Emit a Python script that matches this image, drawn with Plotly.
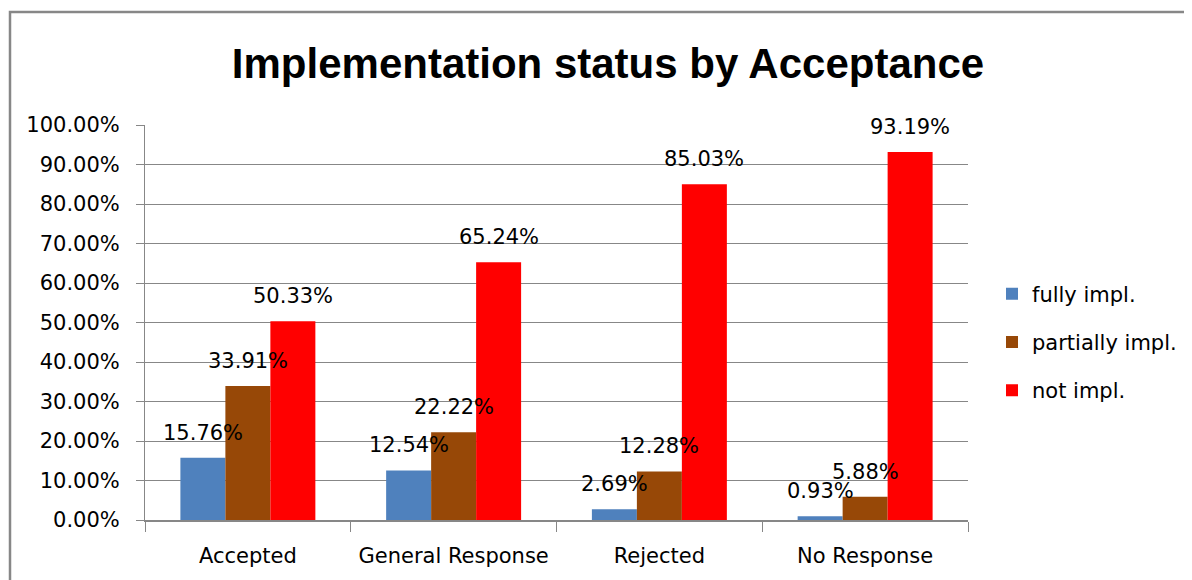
import plotly.graph_objects as go

categories = ["Accepted", "General Response", "Rejected", "No Response"]
series_names = ["fully impl.", "partially impl.", "not impl."]
fully = [0.1576, 0.1254, 0.0269, 0.0093]
partially = [0.3391, 0.2222, 0.1228, 0.0588]
not_impl = [0.5033, 0.6524, 0.8503, 0.9319]
y_ticks = [0, 0.1, 0.2, 0.3, 0.4, 0.5, 0.6, 0.7, 0.8, 0.9, 1.0]
y_ticklabels = ["0.00%", "10.00%", "20.00%", "30.00%", "40.00%", "50.00%",
                "60.00%", "70.00%", "80.00%", "90.00%", "100.00%"]
colors = ["#4F81BD", "#974807", "#FF0000"]

# page body has an 8px margin; figure coordinates are page coordinates - 8
W, H = 1184, 572
ML, MR, MT, MB = 137, 224, 117, 60
plot_w = W - ML - MR
plot_h = H - MT - MB
cat_w = plot_w / len(categories)
bargap = 0.344
bar_w = cat_w * (1 - bargap) / 3

TICK_FONT = "DejaVu Sans"
GRID = "#878787"

fig = go.Figure()
all_series = [fully, partially, not_impl]
for i, (name, vals) in enumerate(zip(series_names, all_series)):
    fig.add_trace(go.Bar(
        x=categories, y=vals, name=name,
        marker=dict(color=colors[i], line=dict(width=0)),
        legendgroup=name,
    ))

annotations = []
for i, vals in enumerate(all_series):
    for c, v in zip(categories, vals):
        annotations.append(dict(
            x=c, y=v, xref="x", yref="y",
            text=f"{v*100:.2f}%", showarrow=False,
            xshift=(i - 1) * bar_w, yshift=25, yanchor="middle",
            font=dict(family=TICK_FONT, size=21, color="#000000"),
        ))

fig.update_layout(
    width=W, height=H,
    margin=dict(l=ML, r=MR, t=MT, b=MB, autoexpand=False),
    paper_bgcolor="white", plot_bgcolor="white",
    barmode="group", bargap=bargap, bargroupgap=0,
    title=dict(
        text="<b>Implementation status by Acceptance</b>",
        font=dict(family="Liberation Sans", size=42, color="#000000"),
        x=600 / W, xref="container", xanchor="center",
        y=1 - 55 / H, yref="container", yanchor="middle",
    ),
    font=dict(family=TICK_FONT, size=21, color="#000000"),
    legend=dict(
        x=(984 - ML) / plot_w, xanchor="left",
        y=(H - MB - 334) / plot_h, yanchor="middle",
        font=dict(family=TICK_FONT, size=21, color="#000000"),
        tracegroupgap=18, bgcolor="rgba(0,0,0,0)",
    ),
    annotations=annotations,
    shapes=[dict(
        type="rect", xref="paper", yref="paper",
        x0=(2 - ML) / plot_w, x1=1.6,
        y0=-0.6, y1=(H - MB - 4) / plot_h,
        line=dict(color="#878787", width=2.5),
        fillcolor="rgba(0,0,0,0)", layer="below",
    )],
)

fig.update_xaxes(
    showline=True, linecolor=GRID, linewidth=2,
    ticks="outside", tickson="boundaries", ticklen=10, tickcolor=GRID, tickwidth=1,
    showgrid=False, ticklabelstandoff=16,
    tickfont=dict(family=TICK_FONT, size=21, color="#000000"),
)
fig.update_yaxes(
    range=[0, 1], tickvals=y_ticks, ticktext=y_ticklabels,
    showline=True, linecolor=GRID, linewidth=1,
    ticks="outside", ticklen=8, tickcolor=GRID, tickwidth=1,
    showgrid=True, gridcolor=GRID, gridwidth=1,
    zeroline=False, ticklabelstandoff=12,
    tickfont=dict(family=TICK_FONT, size=21, color="#000000"),
)

fig.write_html("out.html")
